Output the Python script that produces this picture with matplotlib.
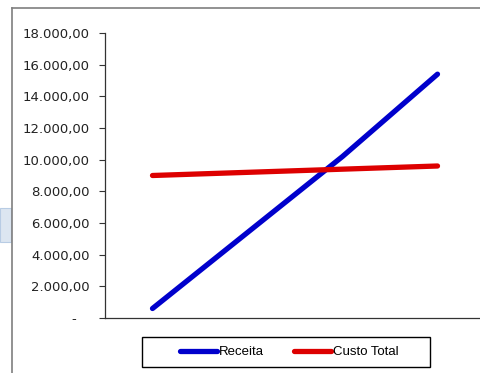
import matplotlib.pyplot as plt
from matplotlib.patches import Rectangle
from matplotlib.lines import Line2D
import numpy as np

# data
periodos = ['1', '2', '3', '4']
receita = [600, 5400, 10200, 15400]
custo_total = [9000, 9200, 9400, 9600]
y_ticks = np.arange(0, 18001, 2000)


def fmt_br(v):
    if v == 0:
        return '-   '
    s = '{:,.2f}'.format(v)
    return s.replace(',', 'X').replace('.', ',').replace('X', '.')


W, H = 481, 373
fig = plt.figure(figsize=(W / 100, H / 100), dpi=100)

# chart frame (excel-like), runs off the right and bottom of the screenshot
fig.add_artist(Line2D([12 / W, 12 / W], [0, 1 - 8 / H], color='#7f7f7f', lw=1.2))
fig.add_artist(Line2D([12 / W, 1], [1 - 8 / H, 1 - 8 / H], color='#7f7f7f', lw=1.2))
# a bit of the spreadsheet cell selection showing on the left
fig.add_artist(Rectangle((0, 1 - 242 / H), 11 / W, 34 / H, facecolor='#dce6f1',
                         edgecolor='#b8cce4', lw=0.8))

ax = fig.add_axes([105 / W, 1 - 318 / H, 380 / W, 285 / H])
x = np.arange(len(periodos))
ax.plot(x, receita, color='#0000cc', lw=3.8, solid_capstyle='round', label='Receita')
ax.plot(x, custo_total, color='#dd0000', lw=3.8, solid_capstyle='round', label='Custo Total')

ax.set_xlim(-0.5, len(periodos) - 0.5)
ax.set_ylim(0, 18000)
ax.set_yticks(y_ticks)
ax.set_yticklabels([fmt_br(v) for v in y_ticks], fontsize=9.5, color='#222222')
ax.set_xticks([])
ax.tick_params(axis='y', length=4, width=0.8, pad=7, color='#333333')
for s in ['top', 'right']:
    ax.spines[s].set_visible(False)
for s in ['left', 'bottom']:
    ax.spines[s].set_color('#333333')
    ax.spines[s].set_linewidth(0.9)

# legend box drawn separately so the padding matches the excel one
fig.add_artist(Rectangle((142 / W, 1 - 367 / H), 288 / W, 30 / H, facecolor='white',
                         edgecolor='black', lw=1.0))
leg = fig.legend(loc='center', bbox_to_anchor=(289 / W, 1 - 352 / H), ncol=2,
                 frameon=False, prop={'family': 'Liberation Sans', 'size': 9.5},
                 handlelength=2.8, handletextpad=0.15, columnspacing=2.3,
                 borderpad=0, borderaxespad=0)

fig.savefig('out.png', dpi=100)
